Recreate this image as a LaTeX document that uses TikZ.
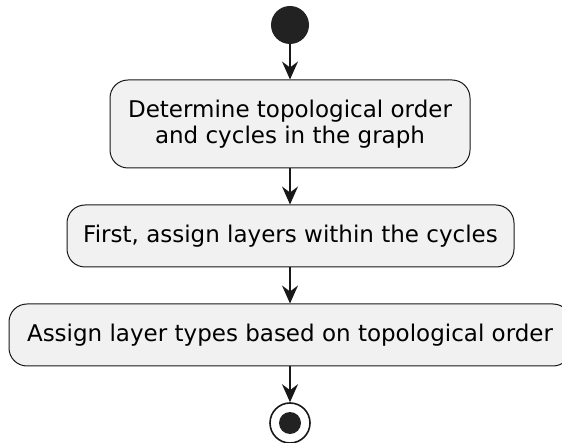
\documentclass[tikz,border=0pt]{standalone}
\usepackage{fontspec}
\setmainfont{DejaVu Sans}
\usetikzlibrary{arrows.meta}
\definecolor{boxfill}{HTML}{F1F1F1}
\definecolor{ink}{HTML}{181818}
\definecolor{dot}{HTML}{222222}
\tikzset{
  activity/.style={draw=ink, line width=1pt, fill=boxfill, rounded corners=18pt,
    align=center, font=\fontsize{23}{26}\selectfont, text=black, inner sep=0pt},
  flow/.style={draw=ink, line width=1.7pt,
    -{Stealth[length=18pt, width=16pt, inset=6pt]}},
  startdot/.style={circle, fill=dot, draw=none, minimum size=38pt, inner sep=0pt},
  endring/.style={circle, draw=ink, line width=1.6pt, fill=white, minimum size=40pt, inner sep=0pt},
  enddot/.style={circle, fill=dot, draw=none, minimum size=22pt, inner sep=0pt}
}
\begin{document}
\begin{tikzpicture}[x=1pt, y=-1pt]
  \useasboundingbox (0,0) rectangle (562,443);
  \node[startdot] (start) at (290,25) {};
  \node[activity, minimum width=360pt, minimum height=88pt] (topo) at (290,124)
    {Determine topological order\\and cycles in the graph};
  \node[activity, minimum width=447pt, minimum height=62pt] (cyc) at (290.5,236)
    {First, assign layers within the cycles};
  \node[activity, minimum width=562pt, minimum height=62pt] (types) at (290,335)
    {Assign layer types based on topological order};
  \node[endring] (stop) at (290,423) {};
  \node[enddot] (stopdot) at (stop.center) {};
  \draw[flow] (start) -- (topo);
  \draw[flow] (topo) -- (cyc.north -| topo.south);
  \draw[flow] (cyc.south -| topo.south) -- (types.north -| topo.south);
  \draw[flow] (types.south -| topo.south) -- (stop);
\end{tikzpicture}
\end{document}
